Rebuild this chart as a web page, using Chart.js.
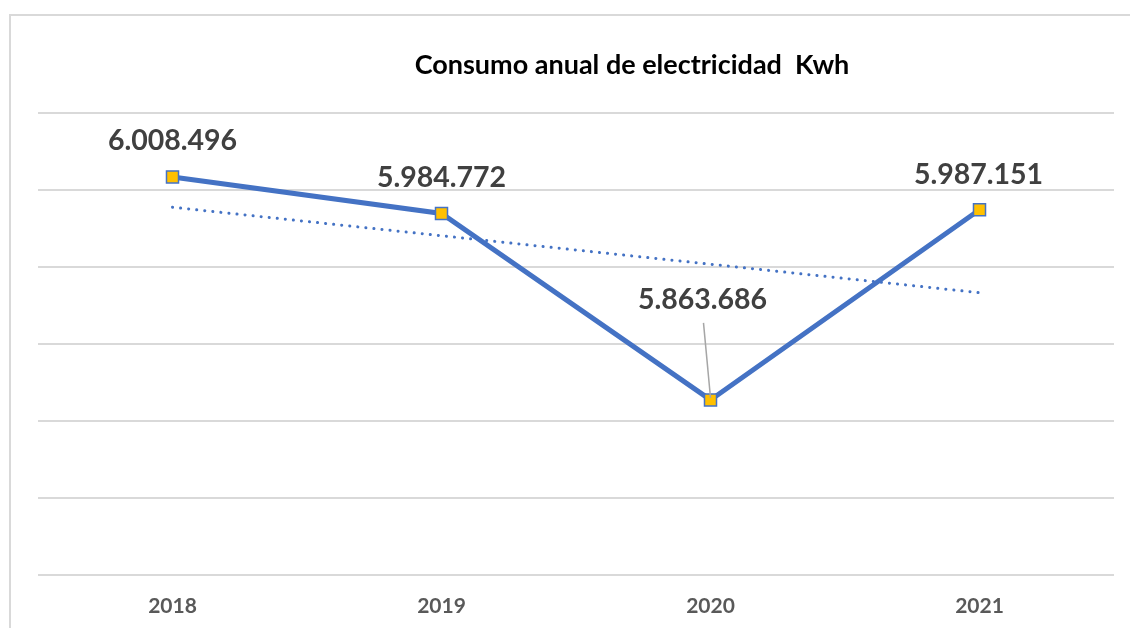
<!DOCTYPE html>
<html>
<head>
<meta charset="utf-8">
<script src="https://cdn.jsdelivr.net/npm/chart.js@4.4.0/dist/chart.umd.min.js"></script>
<style>
    html, body { margin: 0; padding: 0; background: #fff; overflow: hidden; }
    canvas { display: block; }
</style>
</head>
<body>
<canvas id="kwhChart" width="1130" height="628"></canvas>
<script>
//! datos
const years = ['2018', '2019', '2020', '2021'];
const consumo = [6008496, 5984772, 5863686, 5987151];
const consumoLabels = ['6.008.496', '5.984.772', '5.863.686', '5.987.151'];
// tendencia lineal (solo extremos)
const tendencia = [5988800, null, null, 5933300];
const yTicks = [5750000, 5800000, 5850000, 5900000, 5950000, 6000000, 6050000];
const titulo = 'Consumo anual de electricidad  Kwh';

const azul = '#4472C4';
const amarillo = '#FFC000';

// marco gris + titulo
const framePlugin = {
    id: 'frame',
    beforeDraw(chart) {
        const c = chart.ctx;
        c.save();
        c.strokeStyle = '#d9d9d9';
        c.lineWidth = 2;
        c.beginPath();
        c.moveTo(10, 628);
        c.lineTo(10, 15);
        c.lineTo(1130, 15);
        c.stroke();

        c.font = 'bold 27px Lato';
        c.fillStyle = '#000';
        c.textAlign = 'center';
        c.textBaseline = 'middle';
        c.fillText(titulo, 632, 65);
        c.restore();
    }
};

// etiquetas de datos (offset por punto)
const labelOffsets = [[0, -36], [0, -36], [-8, -100], [-1, -35]];
const dataLabelsPlugin = {
    id: 'dataLabels',
    afterDatasetsDraw(chart) {
        const c = chart.ctx;
        const meta = chart.getDatasetMeta(0);
        c.save();
        c.font = 'bold 28.5px Lato';
        c.fillStyle = '#404040';
        c.textAlign = 'center';
        c.textBaseline = 'middle';
        meta.data.forEach((pt, i) => {
            const [dx, dy] = labelOffsets[i];
            const lx = pt.x + dx, ly = pt.y + dy;
            if (dy < -60) {
                // linea guia
                c.strokeStyle = '#a6a6a6';
                c.lineWidth = 1.5;
                c.beginPath();
                c.moveTo(lx + 1, ly + 23);
                c.lineTo(pt.x, pt.y - 2);
                c.stroke();
            }
            c.fillText(consumoLabels[i], lx, ly);
        });
        c.restore();
    }
};

const ctx = document.getElementById('kwhChart');
new Chart(ctx, {
    type: 'line',
    data: {
        labels: years,
        datasets: [
            {
                label: 'Consumo',
                data: consumo,
                borderColor: azul,
                borderWidth: 5,
                pointStyle: 'rect',
                pointRadius: 8.5,
                pointBackgroundColor: amarillo,
                pointBorderColor: azul,
                pointBorderWidth: 1.5,
                tension: 0,
                order: 0,
            },
            {
                label: 'Lineal (Consumo)',
                data: tendencia,
                spanGaps: true,
                borderColor: azul,
                borderWidth: 3,
                borderDash: [0.1, 8],
                borderCapStyle: 'round',
                pointRadius: 0,
                tension: 0,
                order: 1,
            },
        ]
    },
    options: {
        responsive: false,
        animation: false,
        layout: {
            padding: { left: 38, right: 16, top: 113, bottom: 0 }
        },
        plugins: {
            legend: { display: false },
            tooltip: { enabled: false },
            title: { display: false },
        },
        scales: {
            x: {
                offset: true,
                grid: { display: false, drawTicks: false },
                border: { display: false },
                ticks: {
                    color: '#595959',
                    font: { family: 'Lato', size: 21, weight: 'bold' },
                    padding: 18.5,
                },
                afterFit: (axis) => { axis.height = 53; },
            },
            y: {
                min: yTicks[0],
                max: yTicks[yTicks.length - 1],
                afterBuildTicks: (axis) => {
                    axis.ticks = yTicks.map(v => ({ value: v }));
                },
                grid: { color: '#d9d9d9', lineWidth: 2, drawTicks: false },
                border: { display: false },
                ticks: { display: false },
            },
        }
    },
    plugins: [framePlugin, dataLabelsPlugin]
});
</script>
</body>
</html>
